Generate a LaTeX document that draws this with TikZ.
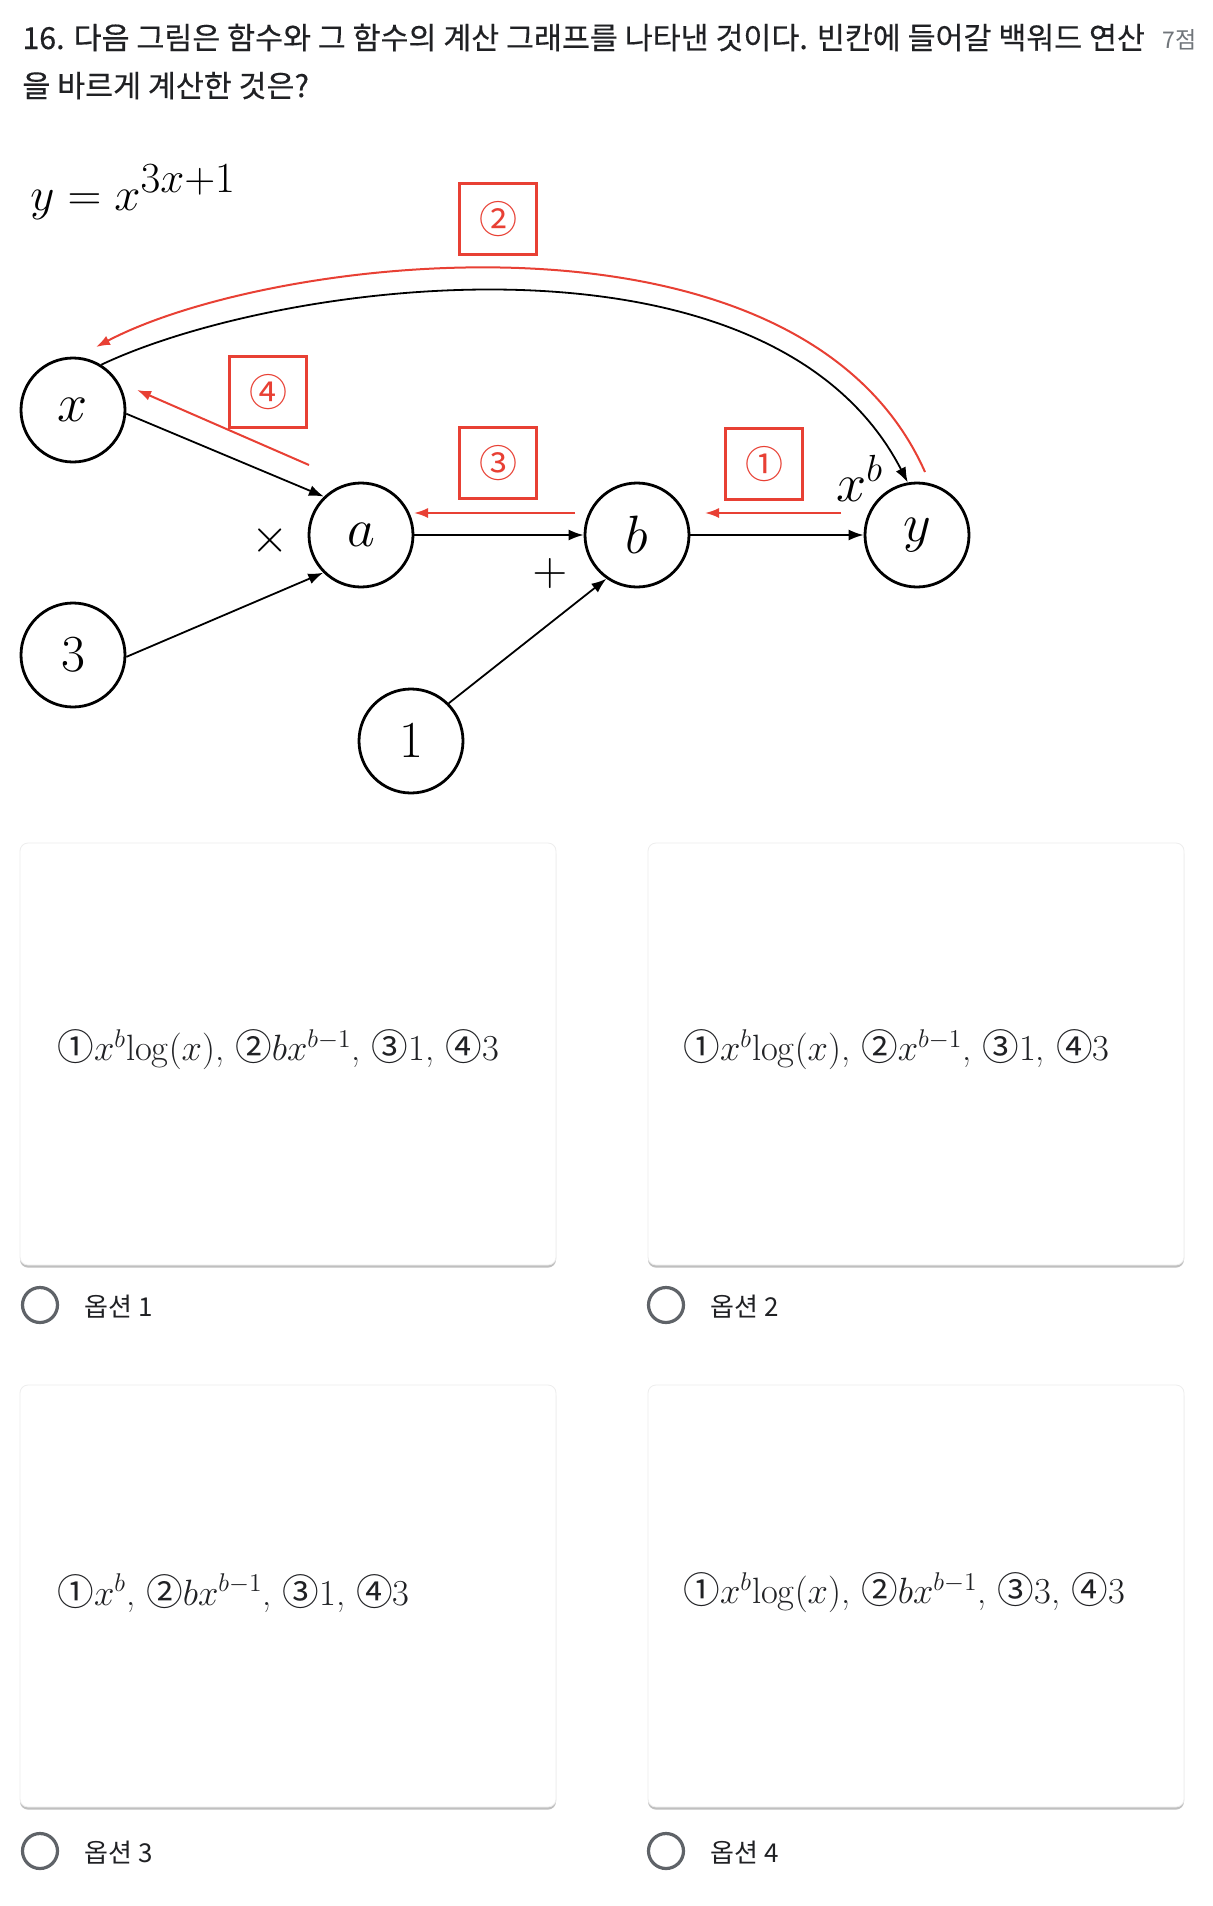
\RequirePackage{fix-cm}
\documentclass[tikz,border=0pt]{standalone}
\usepackage{fontspec}
\usepackage{amsmath}
\newfontfamily\kr{Noto Sans CJK KR}
\newfontfamily\krt[FakeBold=0.4]{Noto Sans CJK KR}
\usetikzlibrary{arrows.meta,shadows}
\definecolor{rd}{RGB}{232,64,52}
\definecolor{txt}{RGB}{32,33,36}
\definecolor{gry}{RGB}{112,117,122}
\definecolor{radio}{RGB}{95,99,104}
\begin{document}
\begin{tikzpicture}[x=0.5pt,y=-0.5pt,
  nd/.style={circle,draw,line width=1.4pt,minimum size=52pt,inner sep=0pt},
  lettr/.style={font=\fontsize{27}{30}\selectfont},
  digt/.style={font=\fontsize{26}{30}\selectfont},
  blk/.style={line width=0.9pt,-{Latex[length=7.5pt,width=5.5pt]}},
  redarr/.style={draw=rd,line width=1pt,-{Latex[length=7pt,width=5pt]}},
  rbox/.style={draw=rd,line width=1.2pt,minimum width=38.5pt,minimum height=35.5pt,inner sep=0pt,text=rd,font=\kr\fontsize{19}{20}\selectfont},
  card/.style={fill=white,draw=black!7,line width=0.4pt,rounded corners=4pt,minimum width=268pt,minimum height=211pt,inner sep=0pt,
     drop shadow={shadow xshift=0pt,shadow yshift=-1.3pt,opacity=0.25,fill=black}},
  opt/.style={anchor=west,inner sep=0pt,text=txt,font=\fontsize{18.3}{21}\selectfont},
  radiob/.style={circle,draw=radio,line width=1.6pt,minimum size=17.5pt,inner sep=0pt},
  rlab/.style={anchor=base west,inner sep=0pt,text=txt,font=\kr\fontsize{13}{15}\selectfont},
  ttl/.style={anchor=base west,inner sep=0pt,text=txt,font=\krt\fontsize{15.2}{18}\selectfont}]
\useasboundingbox (0,0) rectangle (1212,1906);
\fill[white] (0,0) rectangle (1212,1906);

% title
\node[ttl] (t1) at (22,49) {16. 다음 그림은 함수와 그 함수의 계산 그래프를 나타낸 것이다. 빈칸에 들어갈 백워드 연산};
\node[ttl] (t2) at (22,97) {을 바르게 계산한 것은?};
\node[anchor=base east,inner sep=0pt,text=gry,font=\kr\fontsize{11.5}{13}\selectfont] (pts) at (1197,48) {7점};

% formula
\node[anchor=base west,inner sep=0pt,font=\fontsize{23.5}{28}\selectfont] (eq) at (30,210) {$y = x^{\mbox{\fontsize{21.5}{23}\selectfont$3x{+}1$}}$};

% nodes
\node[nd,lettr] (x) at (73,410) {$x$};
\node[nd,lettr] (a) at (361,535) {$a$};
\node[nd,lettr] (b) at (637,535) {$b$};
\node[nd,lettr] (y) at (917,535) {$y$};
\node[nd,digt] (n3) at (73,655) {$3$};
\node[nd,digt] (n1) at (411,741) {$1$};

% operator labels
\node[inner sep=0pt,font=\fontsize{24}{28}\selectfont] (times) at (270,540) {$\times$};
\node[inner sep=0pt,font=\fontsize{24}{28}\selectfont] (plus) at (550,573) {$+$};
\node[anchor=base west,inner sep=0pt,lettr] (xb) at (836,501) {$x^{b}$};

% black forward edges
\draw[blk] (x.-4) -- (a.134);
\draw[blk] (n3.-2) -- (a.-135);
\draw[blk] (a) -- (b);
\draw[blk] (b) -- (y);
\draw[blk] (n1.45) -- (b.-125);
\draw[blk] (x.58) .. controls (280,280) and (770,215) .. (y.100);

% red backward edges
\coordinate (r1s) at (841,513);
\coordinate (r1e) at (705,513);
\coordinate (r3s) at (575,513);
\coordinate (r3e) at (414,513);
\coordinate (r4s) at (309,465);
\coordinate (r4e) at (137,390);
\coordinate (r2s) at (925,472);
\coordinate (r2e) at (96,347);
\draw[redarr] (r1s) -- (r1e);
\draw[redarr] (r3s) -- (r3e);
\draw[redarr] (r4s) -- (r4e);
\draw[redarr] (r2s) .. controls (800,190) and (270,255) .. (r2e);

% red boxes
\node[rbox] (bx2) at (498,219) {②};
\node[rbox] (bx4) at (268,392) {④};
\node[rbox] (bx3) at (498,463) {③};
\node[rbox] (bx1) at (764,464) {①};

% option cards
\node[card] (c1) at (288,1054) {};
\node[card] (c2) at (916,1054) {};
\node[card] (c3) at (288,1596) {};
\node[card] (c4) at (916,1596) {};

\node[opt] (o1) at (57,1050) {{\kr ①}$x^{b}\!\log(x)$, {\kr ②}$bx^{b-1}$, {\kr ③}1, {\kr ④}3};
\node[opt] (o2) at (683,1050) {{\kr ①}$x^{b}\!\log(x)$, {\kr ②}$x^{b-1}$, {\kr ③}1, {\kr ④}3};
\node[opt] (o3) at (57,1593) {{\kr ①}$x^{b}$, {\kr ②}$bx^{b-1}$, {\kr ③}1, {\kr ④}3};
\node[opt] (o4) at (683,1593) {{\kr ①}$x^{b}\!\log(x)$, {\kr ②}$bx^{b-1}$, {\kr ③}3, {\kr ④}3};

% radio buttons
\node[radiob] (rb1) at (40,1305) {};
\node[radiob] (rb2) at (666,1305) {};
\node[radiob] (rb3) at (40,1851) {};
\node[radiob] (rb4) at (666,1851) {};
\node[rlab] (l1) at (84,1316) {옵션 1};
\node[rlab] (l2) at (710,1316) {옵션 2};
\node[rlab] (l3) at (84,1862) {옵션 3};
\node[rlab] (l4) at (710,1862) {옵션 4};
\end{tikzpicture}
\end{document}
